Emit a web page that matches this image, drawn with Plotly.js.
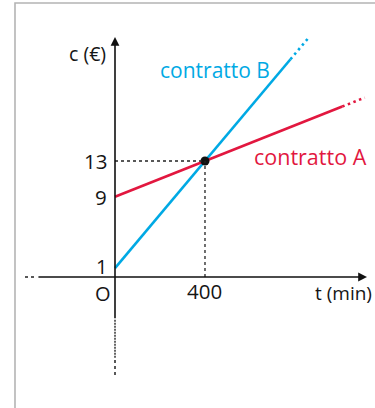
<!DOCTYPE html>
<html>
<head>
<meta charset="utf-8">
<script src="https://cdn.plot.ly/plotly-3.0.1.min.js"></script>
<style>
html,body{margin:0;padding:0;background:#fff;}
#chart{width:375px;height:408px;}
</style>
</head>
<body>
<div id="chart"></div>
<script>
// ---- data ----
const tB = [0, 400, 780];          // contratto B, solid part (min)
const cB = [1, 13, 24.4];          // euro
const tBext = [780, 860];          // dotted continuation
const cBext = [24.4, 26.8];

const tA = [0, 400, 1010];         // contratto A, solid part
const cA = [9, 13, 19.1];
const tAext = [1010, 1110];
const cAext = [19.1, 20.1];

const tCross = [400];              // intersection point
const cCross = [13];

const yTickVals = [1, 9, 13];
const yTickText = ['1', '9', '13'];
const xTickVals = [400];
const xTickText = ['400'];

const labelB = 'contratto B';
const labelA = 'contratto A';
const xTitle = 't (min)';
const yTitle = 'c (€)';
const originLabel = 'O';

const colB = '#00a9e4';
const colA = '#e2173f';
const INK = '#151515';
const FONT = '"Open Sans", "Noto Sans", sans-serif';

// ---- traces ----
const traces = [
  {x: tB, y: cB, mode: 'lines', line: {color: colB, width: 2.6}, hoverinfo: 'skip'},
  {x: tBext, y: cBext, mode: 'lines', line: {color: colB, width: 2.6, dash: '2.5px,3.5px'}, hoverinfo: 'skip'},
  {x: tA, y: cA, mode: 'lines', line: {color: colA, width: 2.6}, hoverinfo: 'skip'},
  {x: tAext, y: cAext, mode: 'lines', line: {color: colA, width: 2.6, dash: '2.5px,3.5px'}, hoverinfo: 'skip'},
  {x: tCross, y: cCross, mode: 'markers', marker: {color: '#111', size: 9}, hoverinfo: 'skip'}
];

// guide lines and axes as shapes in data coordinates
const shapes = [
  // outer frame
  {type: 'rect', xref: 'paper', yref: 'paper', x0: 15/375, x1: 1.1, y0: -0.1, y1: 1 - 3/408,
   line: {color: '#b4b4b4', width: 1.6}, fillcolor: 'rgba(0,0,0,0)', layer: 'below'},
  // dotted guides to the crossing
  {type: 'line', x0: 0, x1: tCross[0], y0: cCross[0], y1: cCross[0], line: {color: '#222', width: 1.3, dash: 'dot'}},
  {type: 'line', x0: tCross[0], x1: tCross[0], y0: 0, y1: cCross[0], line: {color: '#222', width: 1.3, dash: 'dot'}},
  // x axis dotted left part
  {type: 'line', x0: -400, x1: -347, y0: 0, y1: 0, line: {color: '#222', width: 1.5, dash: 'dot'}},
  // y axis lower parts
  {type: 'line', x0: 0, x1: 0, y0: -4.8, y1: -9.1, line: {color: '#333', width: 1.5, dash: '2px,1px'}},
  {type: 'line', x0: 0, x1: 0, y0: -9.3, y1: -11, line: {color: '#222', width: 1.5, dash: 'dot'}}
];

const annotations = [
  // axis arrows
  {x: 1120, y: 0, ax: -347, ay: 0, axref: 'x', ayref: 'y', xref: 'x', yref: 'y', text: '',
   showarrow: true, arrowhead: 2, arrowsize: 1.1, arrowwidth: 1.6, arrowcolor: '#111'},
  {x: 0, y: 26.9, ax: 0, ay: -4.8, axref: 'x', ayref: 'y', xref: 'x', yref: 'y', text: '',
   showarrow: true, arrowhead: 2, arrowsize: 1.1, arrowwidth: 1.6, arrowcolor: '#111'},
  // labels
  {x: 0, y: 25.1, xshift: -7, xanchor: 'right', yanchor: 'middle', text: yTitle, showarrow: false,
   font: {family: FONT, size: 19.5, color: INK}},
  {x: 880, y: 0, yshift: -16, xanchor: 'left', yanchor: 'middle', text: xTitle, showarrow: false,
   font: {family: FONT, size: 19, color: INK}},
  {x: 0, y: 0, xshift: -2, yshift: -16.5, xanchor: 'right', yanchor: 'middle', text: originLabel, showarrow: false,
   font: {family: FONT, size: 20, color: INK}},
  {x: 191, y: 23.2, xanchor: 'left', yanchor: 'middle', text: labelB, showarrow: false,
   font: {family: FONT, size: 21, color: colB}},
  {x: 609, y: 13.45, xanchor: 'left', yanchor: 'middle', text: labelA, showarrow: false,
   font: {family: FONT, size: 21.5, color: colA}}
];
yTickVals.forEach((v, i) => annotations.push({
  x: 0, y: v, xshift: -6, yshift: (v === 1 ? 2 : 0), xanchor: 'right', yanchor: 'middle', text: yTickText[i], showarrow: false,
  font: {family: FONT, size: (v === 1 ? 20 : 20.5), color: INK}
}));
xTickVals.forEach((v, i) => annotations.push({
  x: v, y: 0, yshift: -14, xanchor: 'center', yanchor: 'middle', text: xTickText[i], showarrow: false,
  font: {family: FONT, size: 20.5, color: INK}
}));

const layout = {
  width: 375, height: 408,
  margin: {l: 0, r: 0, t: 0, b: 0, pad: 0},
  paper_bgcolor: '#fff', plot_bgcolor: '#fff',
  showlegend: false,
  xaxis: {range: [-511.1, 1155.6], visible: false, fixedrange: true},
  yaxis: {range: [-14.68, 31.04], visible: false, fixedrange: true},
  shapes: shapes,
  annotations: annotations
};

Plotly.newPlot('chart', traces, layout, {staticPlot: true, displayModeBar: false});
</script>
</body>
</html>
